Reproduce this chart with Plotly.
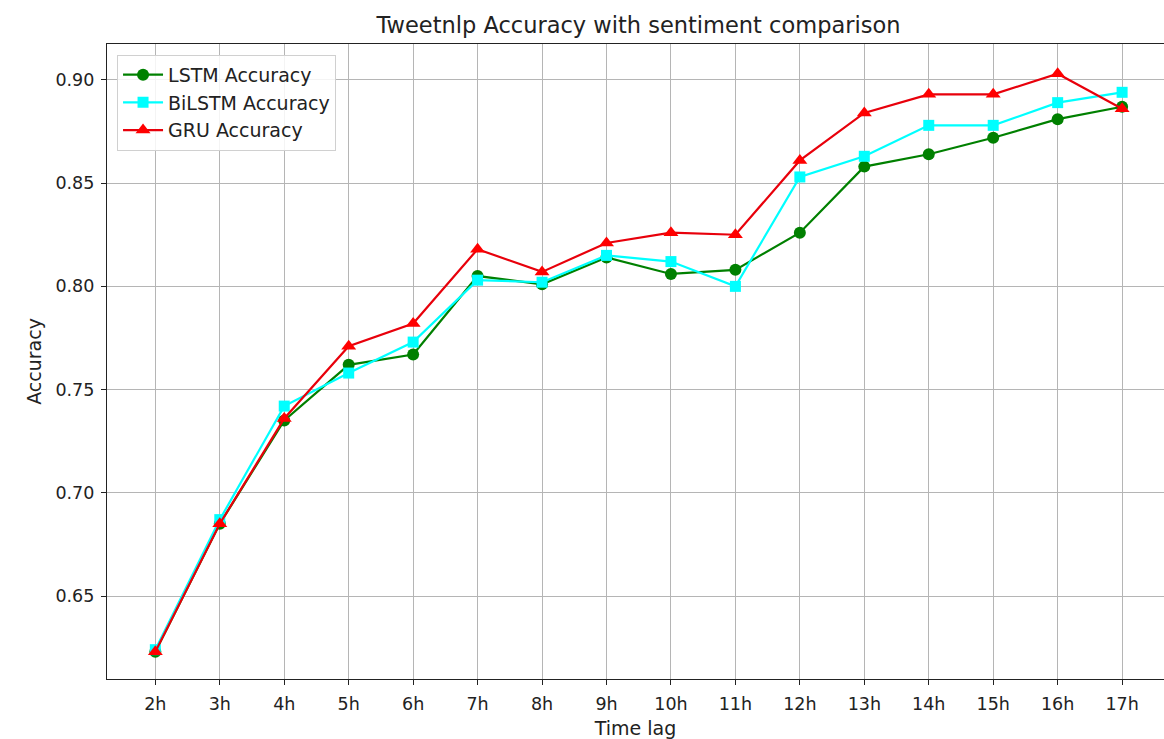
import plotly.graph_objects as go

time_lags = ["2h", "3h", "4h", "5h", "6h", "7h", "8h", "9h", "10h", "11h",
             "12h", "13h", "14h", "15h", "16h", "17h"]
lstm_acc = [0.623, 0.685, 0.735, 0.762, 0.767, 0.805, 0.801, 0.814, 0.806, 0.808,
            0.826, 0.858, 0.864, 0.872, 0.881, 0.887]
bilstm_acc = [0.624, 0.687, 0.742, 0.758, 0.773, 0.803, 0.802, 0.815, 0.812, 0.800,
              0.853, 0.863, 0.878, 0.878, 0.889, 0.894]
gru_acc = [0.623, 0.685, 0.736, 0.771, 0.782, 0.818, 0.807, 0.821, 0.826, 0.825,
           0.861, 0.884, 0.893, 0.893, 0.903, 0.886]
y_ticks = [0.65, 0.70, 0.75, 0.80, 0.85, 0.90]

FONT = "DejaVu Sans"
fig = go.Figure()
fig.add_trace(go.Scatter(x=time_lags, y=lstm_acc, mode="lines+markers", name="LSTM Accuracy",
                         line=dict(color="green", width=2.2),
                         marker=dict(symbol="circle", size=12, color="green")))
fig.add_trace(go.Scatter(x=time_lags, y=bilstm_acc, mode="lines+markers", name="BiLSTM Accuracy",
                         line=dict(color="#00FFFF", width=2.2),
                         marker=dict(symbol="square", size=11, color="#00FFFF")))
fig.add_trace(go.Scatter(x=time_lags, y=gru_acc, mode="lines+markers", name="GRU Accuracy",
                         line=dict(color="#E8000B", width=2.2),
                         marker=dict(symbol="triangle-up", size=13, color="#FF0000")))

W, H = 1164, 739
L, R, T, B = 107, 0, 44, 60
fig.update_layout(
    width=W, height=H,
    margin=dict(l=L, r=R, t=T, b=B),
    paper_bgcolor="white", plot_bgcolor="white",
    font=dict(family=FONT, size=17, color="#222"),
    title=dict(text="Tweetnlp Accuracy with sentiment comparison",
               x=(638.5 - L) / (W - L - R), xref="paper", xanchor="center",
               y=1 - 25 / H, yref="container", yanchor="middle",
               font=dict(family=FONT, size=22.5, color="#222")),
    showlegend=True,
    legend=dict(x=0.0095, y=0.983, xanchor="left", yanchor="top",
                bgcolor="rgba(255,255,255,0.85)", bordercolor="#d0d0d0", borderwidth=1,
                font=dict(family=FONT, size=19, color="#222"),
                tracegroupgap=0, itemwidth=40),
    xaxis=dict(type="category", range=[-0.75, 15.65],
               showline=True, linecolor="#222", linewidth=1.3, mirror=True,
               ticks="outside", ticklen=5, tickcolor="#222", ticklabelstandoff=4,
               showgrid=True, gridcolor="#b5b5b5", gridwidth=1,
               tickfont=dict(family=FONT, size=17.5, color="#222"),
               title=dict(text="Time lag", font=dict(family=FONT, size=19, color="#222"), standoff=10),
               zeroline=False),
    yaxis=dict(range=[0.6098, 0.9174], tickvals=y_ticks,
               ticktext=[f"{v:.2f}" for v in y_ticks],
               showline=True, linecolor="#222", linewidth=1.3, mirror=False,
               ticks="outside", ticklen=5, tickcolor="#222", ticklabelstandoff=3,
               showgrid=True, gridcolor="#b5b5b5", gridwidth=1,
               tickfont=dict(family=FONT, size=17.5, color="#222"),
               title=dict(text="Accuracy", font=dict(family=FONT, size=19, color="#222"), standoff=8),
               zeroline=False),
)
fig.write_html("out.html")
